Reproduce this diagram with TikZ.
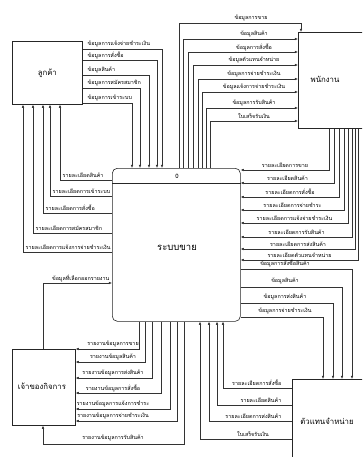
\documentclass[tikz,border=0pt]{standalone}
\usepackage{fontspec}
\newfontfamily\thaifont[Script=Thai]{Loma}
\usetikzlibrary{arrows.meta}

\begin{document}
\begin{tikzpicture}[x=1pt,y=-1pt,
  entity/.style={draw=black!85, line width=0.6pt, inner sep=0pt},
  flow/.style={draw=black!80, line width=0.5pt},
  arr/.style={flow, -{Latex[length=3.2pt,width=2.6pt]}},
  lbl/.style={font=\thaifont\fontsize{5.4}{6}\selectfont, inner sep=0.5pt},
  ttl/.style={font=\thaifont\fontsize{7.8}{9}\selectfont, inner sep=0pt},
]
\useasboundingbox (0,0) rectangle (362,457);
\clip (0,0) rectangle (362,457);

% ---- external entities and the process ----
\node[entity, minimum width=70pt, minimum height=63pt, anchor=north west] (cust) at (12,41) {};
\node[ttl] at (cust.center) {ลูกค้า};

\node[entity, minimum width=70pt, minimum height=96pt, anchor=north west] (emp) at (298,32) {};
\node[ttl] at (325,79) {พนักงาน};

\node[entity, minimum width=63pt, minimum height=76pt, anchor=north west] (own) at (12,349) {};
\node[ttl] at (42,386) {เจ้าของกิจการ};

\node[entity, minimum width=100pt, minimum height=100pt, anchor=north west] (dist) at (292,379) {};
\node[ttl] at (327,421) {ตัวแทนจำหน่าย};

\node[entity, rounded corners=5pt, minimum width=128pt, minimum height=153pt, anchor=north west] (sys) at (112,168) {};
\draw[entity] (sys.west |- 0,183) -- (sys.east |- 0,183);
\node[lbl, font=\thaifont\fontsize{6}{7}\selectfont] at (177,176) {0};
\node[ttl, font=\thaifont\fontsize{9.5}{11}\selectfont] at (177,248) {ระบบขาย};

% ---- customer -> system ----
\foreach \y/\x/\t in {49/162/ข้อมูลการแจ้งจ่ายชำระเงิน, 60/157/ข้อมูลการสั่งซื้อ,
                       75/149/ข้อมูลสินค้า, 88/140/ข้อมูลการสมัครสมาชิก,
                       103/132/ข้อมูลการเข้าระบบ}{
  \draw[arr] (cust.east |- 0,\y) -- (\x,\y) -- (\x,0 |- sys.north);
  \node[lbl, anchor=west] at (87,\y-5) {\t};
}

% ---- system -> customer ----
\foreach \y/\x/\t in {180/60/รายละเอียดสินค้า, 196/50/รายละเอียดการเข้าระบบ,
                       213/43/รายละเอียดการสั่งซื้อ, 233/33/รายละเอียดการสมัครสมาชิก,
                       252/23/รายละเอียดการแจ้งการจ่ายชำระเงิน}{
  \draw[arr] (sys.west |- 0,\y) -- (\x,\y) -- (\x,0 |- cust.south);
  \node[lbl, anchor=west] at (\x+2,\y-5) {\t};
}

% ---- system -> employee ----
\coordinate (empin) at (301,0 |- emp.north);
\draw[arr] (179,0 |- sys.north) -- (179,23) -- (301,23) -- (empin);
\node[lbl] at (251,18) {ข้อมูลการขาย};
\foreach \y/\x/\t in {39/183/ข้อมูลสินค้า, 52/188/ข้อมูลการสั่งซื้อ,
                       65/193/ข้อมูลตัวแทนจำหน่าย, 79/198/ข้อมูลการจ่ายชำระเงิน,
                       92/202/ข้อมูลแจ้งการจ่ายชำระเงิน, 108/206/ข้อมูลการรับสินค้า,
                       121/210/ใบเสร็จรับเงิน}{
  \draw[arr] (\x,0 |- sys.north) -- (\x,\y) -- (emp.west |- 0,\y);
  \node[lbl] at (254,\y-5) {\t};
}

% ---- employee -> system ----
\foreach \y/\x/\t in {170/329/รายละเอียดการขาย, 183/334/รายละเอียดสินค้า,
                       197/339/รายละเอียดการสั่งซื้อ, 210/344/รายละเอียดการจ่ายชำระ,
                       223/348/รายละเอียดการแจ้งจ่ายชำระเงิน, 237/352/รายละเอียดการรับสินค้า,
                       249/355/รายละเอียดการส่งสินค้า, 260/358/รายละเอียดตัวแทนจำหน่าย}{
  \draw[arr] (\x,0 |- emp.south) -- (\x,\y) -- (sys.east |- 0,\y);
  \node[lbl] at ({(241+\x)/2},\y-5) {\t};
}

% ---- system -> distributor ----
\foreach \y/\x/\t in {269/352/ข้อมูลการสั่งซื้อสินค้า, 287/342/ข้อมูลสินค้า,
                       303/333/ข้อมูลการส่งสินค้า, 317/323/ข้อมูลการจ่ายชำระเงิน}{
  \draw[arr] (sys.east |- 0,\y) -- (\x,\y) -- (\x,0 |- dist.north);
  \node[lbl] at (285,\y-6) {\t};
}

% ---- distributor -> system ----
\foreach \y/\x/\t in {388/223/รายละเอียดการสั่งซื้อ, 405/217/รายละเอียดสินค้า,
                       421/209/รายละเอียดการส่งสินค้า}{
  \draw[arr] (dist.west |- 0,\y) -- (\x,\y) -- (\x,0 |- sys.south);
  \node[lbl, anchor=east] at (282,\y-5) {\t};
}
\draw[arr] (dist.west |- 0,439) -- (200,439) -- (200,0 |- sys.south);
\node[lbl] at (253,434) {ใบเสร็จรับเงิน};

% ---- system -> owner ----
\foreach \y/\x/\t in {349/139/รายงานข้อมูลการขาย, 362/145/รายงานข้อมูลสินค้า,
                       378/152/รายงานข้อมูลการส่งสินค้า, 393/161/รายงานข้อมูลการสั่งซื้อ,
                       409/170/รายงานข้อมูลการแจ้งการชำระ, 421/177/รายงานข้อมูลการจ่ายชำระเงิน}{
  \draw[arr] (\x,0 |- sys.south) -- (\x,\y) -- (own.east |- 0,\y);
  \node[lbl] at (113,\y-5) {\t};
}
\draw[arr] (184,0 |- sys.south) -- (184,444) -- (43,444) -- (43,0 |- own.south);
\node[lbl] at (113,438) {รายงานข้อมูลการรับสินค้า};

% ---- owner -> system ----
\draw[arr] (43,0 |- own.north) -- (43,283) -- (sys.west |- 0,283);
\node[lbl, anchor=east] at (110,278) {ข้อมูลที่เลือกออกรายงาน};

\end{tikzpicture}
\end{document}
